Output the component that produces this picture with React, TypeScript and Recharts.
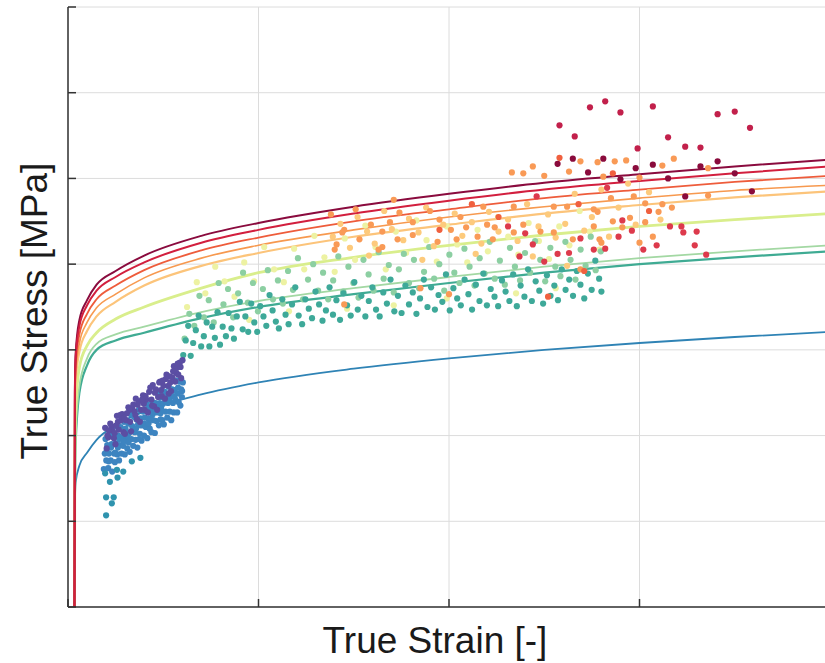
import React from "react"
import {
  ComposedChart,
  Line,
  Scatter,
  XAxis,
  YAxis,
  CartesianGrid,
} from "recharts"

// fitted flow curves, all sampled at the same strains
const curveStrain = [0.0034, 0.0036, 0.004, 0.006, 0.01, 0.015, 0.025, 0.04, 0.07, 0.1, 0.15, 0.2, 0.25, 0.3, 0.35, 0.4]
const blueCurve = [0, 120, 145, 165, 180, 195, 212, 228, 248, 262, 278, 290, 300, 308, 315, 321]
const tealCurve = [0, 120, 190, 250, 282, 300, 311, 320, 337, 350, 365, 378, 390, 400, 408, 415]
const lightGreenCurve = [0, 130, 200, 258, 290, 307, 318, 327, 344, 357, 372, 385, 397, 407, 415, 422]
const yellowGreenCurve = [0, 170, 230, 280, 305, 320, 336, 350, 372, 390, 408, 422, 434, 444, 452, 459]
const lightOrangeCurve = [0, 225, 262, 298, 322, 339, 356, 375, 398, 413, 432, 446, 459, 469, 478, 485]
const orangeCurve = [0, 232, 272, 308, 332, 349, 365, 384, 407, 422, 440, 455, 467, 477, 486, 492]
const orangeRedCurve = [0, 240, 282, 318, 342, 359, 375, 393, 416, 431, 450, 464, 477, 487, 496, 503]
const maroonCurve = [0, 250, 295, 335, 358, 376, 392, 410, 433, 448, 467, 482, 495, 505, 514, 522]
const redCurve = [0, 245, 290, 328, 352, 369, 385, 402, 425, 440, 459, 474, 487, 497, 506, 514]

// measured points [strain, stress MPa]
const purplePts = [
  [0.0195, 209], [0.0212, 198], [0.0203, 185], [0.0228, 211], [0.0241, 197], [0.0233, 206], [0.0257, 223], [0.0266, 207],
  [0.0249, 190], [0.0278, 218], [0.0291, 204], [0.0284, 225], [0.0305, 218], [0.0317, 233], [0.0299, 202], [0.0326, 216],
  [0.0338, 231], [0.0331, 205], [0.0349, 228], [0.0356, 243], [0.0362, 219], [0.0371, 240], [0.0383, 230], [0.0377, 216],
  [0.0394, 247], [0.0402, 230], [0.0411, 242], [0.0419, 227], [0.0426, 251], [0.0438, 242], [0.0445, 259], [0.0452, 234],
  [0.0461, 254], [0.0473, 245], [0.0468, 230], [0.0484, 263], [0.0492, 246], [0.0501, 258], [0.0509, 243], [0.0517, 271],
  [0.0526, 258], [0.0533, 269], [0.0541, 252], [0.0548, 268], [0.0556, 281], [0.0563, 263], [0.0572, 279], [0.0579, 271],
  [0.0587, 285], [0.0594, 267], [0.0214, 206], [0.0262, 216], [0.0309, 226], [0.0354, 224], [0.0398, 237], [0.0441, 235],
  [0.0488, 253], [0.0529, 249], [0.0569, 273], [0.0245, 203], [0.0222, 214], [0.0273, 224], [0.0322, 230], [0.0366, 236],
  [0.0407, 246], [0.0432, 256], [0.0479, 262], [0.0513, 266], [0.0552, 275], [0.0591, 280], [0.0207, 200], [0.0254, 212],
  [0.0295, 220], [0.0343, 236], [0.0389, 242], [0.0456, 250], [0.0497, 264], [0.0537, 262], [0.0576, 284], [0.0601, 288],
]
const bluePts = [
  [0.0188, 161], [0.0193, 179], [0.0197, 196], [0.0201, 171], [0.0206, 189], [0.0211, 162], [0.0215, 179], [0.0219, 202],
  [0.0224, 171], [0.0229, 190], [0.0232, 158], [0.0237, 199], [0.0242, 179], [0.0246, 169], [0.0251, 191], [0.0255, 211],
  [0.0259, 178], [0.0263, 200], [0.0268, 171], [0.0272, 189], [0.0276, 210], [0.0281, 179], [0.0285, 198], [0.0289, 188],
  [0.0294, 216], [0.0298, 178], [0.0302, 208], [0.0307, 196], [0.0311, 185], [0.0316, 214], [0.032, 203], [0.0324, 181],
  [0.0329, 225], [0.0333, 196], [0.0337, 211], [0.0342, 188], [0.0346, 222], [0.0351, 204], [0.0355, 195], [0.0359, 219],
  [0.0364, 186], [0.0368, 213], [0.0372, 230], [0.0377, 202], [0.0381, 220], [0.0386, 194], [0.039, 212], [0.0394, 228],
  [0.0399, 200], [0.0403, 221], [0.0408, 210], [0.0412, 237], [0.0416, 197], [0.0421, 220], [0.0425, 232], [0.0429, 208],
  [0.0434, 228], [0.0438, 204], [0.0442, 239], [0.0447, 218], [0.0451, 228], [0.0456, 203], [0.046, 238], [0.0464, 217],
  [0.0469, 227], [0.0473, 249], [0.0477, 212], [0.0482, 238], [0.0486, 226], [0.049, 245], [0.0495, 218], [0.0499, 237],
  [0.0503, 213], [0.0508, 251], [0.0512, 228], [0.0516, 245], [0.0521, 221], [0.0525, 238], [0.0529, 257], [0.0534, 228],
  [0.0538, 246], [0.0542, 218], [0.0547, 254], [0.0551, 238], [0.0555, 227], [0.056, 253], [0.0564, 242], [0.0568, 264],
  [0.0573, 227], [0.0577, 249], [0.0581, 239], [0.0586, 263], [0.059, 235], [0.0594, 254], [0.0598, 245], [0.0603, 262],
  [0.0203, 182], [0.0226, 186], [0.0248, 180], [0.0269, 196], [0.0292, 193], [0.0313, 200], [0.0335, 205], [0.0357, 208],
  [0.0379, 212], [0.0401, 214], [0.0423, 214], [0.0445, 225], [0.0467, 232], [0.0489, 232], [0.0511, 240], [0.0533, 242],
  [0.0556, 246], [0.0578, 256], [0.0599, 252], [0.0213, 170], [0.0262, 186], [0.0318, 192], [0.0374, 196], [0.0431, 220],
  [0.0486, 219],
]
const blueTealPts = [
  [0.022, 146], [0.02, 128], [0.024, 128], [0.023, 121], [0.02, 107], [0.029, 158], [0.038, 174], [0.026, 151],
  [0.0195, 156], [0.0257, 160], [0.0335, 170],
]
const tealPts = [
  [0.0605, 294], [0.0618, 311], [0.0631, 328], [0.0644, 293], [0.0657, 308], [0.0671, 323], [0.0686, 340], [0.0699, 304],
  [0.0713, 316], [0.0728, 332], [0.0742, 304], [0.0757, 327], [0.0771, 314], [0.0785, 344], [0.0798, 306], [0.0812, 327],
  [0.0829, 316], [0.0843, 343], [0.0858, 325], [0.0871, 313], [0.0886, 339], [0.0902, 356], [0.0917, 324], [0.0931, 339],
  [0.0946, 321], [0.0962, 354], [0.0978, 332], [0.0993, 321], [0.1009, 351], [0.1026, 339], [0.1041, 328], [0.1058, 364],
  [0.1074, 346], [0.1091, 333], [0.1107, 325], [0.1125, 359], [0.1142, 341], [0.1158, 330], [0.1176, 353], [0.1193, 373],
  [0.1211, 340], [0.1229, 330], [0.1246, 359], [0.1264, 348], [0.1281, 337], [0.1299, 368], [0.1318, 353], [0.1336, 334],
  [0.1354, 346], [0.1373, 373], [0.1391, 341], [0.1409, 358], [0.1428, 335], [0.1446, 366], [0.1465, 352], [0.1484, 340],
  [0.1503, 379], [0.1521, 347], [0.154, 363], [0.1561, 339], [0.1579, 357], [0.1598, 373], [0.1617, 347], [0.1636, 339],
  [0.1655, 367], [0.1674, 354], [0.1693, 382], [0.1713, 345], [0.1732, 363], [0.1751, 343], [0.1771, 375], [0.179, 353],
  [0.181, 367], [0.1829, 342], [0.1848, 360], [0.1868, 382], [0.1887, 350], [0.1906, 373], [0.1926, 347], [0.1945, 364],
  [0.1965, 356], [0.1984, 388], [0.2004, 346], [0.2023, 372], [0.2043, 360], [0.2062, 352], [0.2082, 382], [0.2102, 365],
  [0.2121, 347], [0.2141, 376], [0.216, 357], [0.218, 389], [0.2199, 352], [0.2219, 371], [0.2239, 362], [0.2258, 351],
  [0.2278, 381], [0.2297, 368], [0.2317, 357], [0.2337, 388], [0.2356, 351], [0.2376, 375], [0.2396, 362], [0.2415, 394],
  [0.2435, 357], [0.2455, 380], [0.2474, 369], [0.2494, 354], [0.2514, 387], [0.2533, 363], [0.2553, 375], [0.2572, 358],
  [0.2592, 394], [0.2612, 370], [0.2631, 382], [0.2651, 363], [0.2671, 392], [0.269, 376], [0.271, 360], [0.2729, 389],
  [0.2749, 370], [0.2768, 404], [0.2788, 383], [0.28, 368],
]
const greenPts = [
  [0.0612, 313], [0.0637, 342], [0.0663, 328], [0.069, 363], [0.0714, 338], [0.0739, 358], [0.0765, 332], [0.0791, 378],
  [0.0816, 353], [0.084, 371], [0.0867, 338], [0.0893, 366], [0.0919, 390], [0.0944, 355], [0.0971, 378], [0.0997, 345],
  [0.1023, 371], [0.1049, 393], [0.1076, 359], [0.1102, 381], [0.1128, 354], [0.1155, 392], [0.1181, 370], [0.1207, 407],
  [0.1234, 359], [0.126, 382], [0.1287, 400], [0.1313, 369], [0.1339, 390], [0.1366, 359], [0.1392, 381], [0.1419, 409],
  [0.1445, 368], [0.1472, 397], [0.1498, 378], [0.1525, 361], [0.1551, 405], [0.1578, 388], [0.1604, 369], [0.1631, 414],
  [0.1657, 383], [0.1684, 399], [0.171, 367], [0.1737, 394], [0.1763, 412], [0.179, 378], [0.1816, 405], [0.1843, 372],
  [0.1869, 391], [0.1896, 420], [0.1922, 383], [0.1949, 400], [0.1975, 369], [0.2002, 411], [0.2028, 390], [0.2055, 378],
  [0.2081, 418], [0.2108, 397], [0.2134, 375], [0.2161, 407], [0.2187, 389], [0.2214, 426], [0.224, 383], [0.2267, 404],
  [0.2293, 376], [0.232, 419], [0.2346, 397], [0.2373, 381], [0.2399, 413], [0.2426, 390], [0.2452, 427], [0.2479, 405],
  [0.2505, 380], [0.2532, 419], [0.2558, 397], [0.2585, 386], [0.2611, 426], [0.2638, 405], [0.2664, 382], [0.2691, 417],
  [0.2717, 398], [0.2744, 432], [0.277, 393], [0.2797, 415],
]
const yellowPts = [
  [0.0625, 350], [0.0676, 379], [0.0721, 366], [0.0773, 397], [0.0822, 380], [0.0874, 362], [0.0925, 402], [0.0977, 380],
  [0.103, 420], [0.1082, 394], [0.1133, 379], [0.1187, 418], [0.124, 394], [0.1293, 433], [0.1346, 408], [0.14, 391],
  [0.1453, 430], [0.1507, 405], [0.1561, 445], [0.1614, 420], [0.1668, 394], [0.1721, 438], [0.1775, 413], [0.1829, 451],
  [0.1882, 428], [0.1936, 403], [0.1989, 444], [0.2043, 423], [0.2096, 402], [0.215, 440], [0.2204, 415], [0.2257, 455],
  [0.2311, 432], [0.2364, 411], [0.2418, 448], [0.2472, 427], [0.2525, 406], [0.2579, 444], [0.2632, 422], [0.2686, 462],
  [0.2739, 438], [0.279, 417], [0.0951, 335], [0.1465, 348], [0.1988, 360], [0.2352, 366], [0.256, 372], [0.116, 345],
  [0.171, 352],
]
const lightOrangePts = [
  [0.139, 432], [0.143, 447], [0.148, 419], [0.152, 455], [0.157, 438], [0.161, 424], [0.166, 462], [0.17, 441],
  [0.176, 428], [0.179, 453], [0.184, 437], [0.188, 466], [0.192, 421], [0.197, 446], [0.203, 459], [0.207, 433],
  [0.212, 449], [0.217, 424], [0.221, 461], [0.226, 438], [0.231, 452], [0.236, 427], [0.241, 470], [0.247, 444],
  [0.252, 458], [0.256, 431], [0.261, 447], [0.266, 482], [0.271, 439], [0.275, 455], [0.28, 487], [0.284, 432],
  [0.289, 466], [0.294, 494], [0.298, 446], [0.305, 484], [0.311, 452], [0.158, 410], [0.186, 405], [0.214, 412],
  [0.244, 409], [0.262, 398],
]
const orangePts = [
  [0.171, 475], [0.174, 460], [0.19, 462], [0.206, 455], [0.218, 467], [0.234, 467], [0.255, 467], [0.262, 467],
  [0.276, 464], [0.169, 449], [0.181, 449], [0.195, 452], [0.201, 440], [0.209, 443], [0.22, 446], [0.224, 443],
  [0.239, 446], [0.248, 438], [0.181, 434], [0.173, 429], [0.194, 426], [0.204, 429], [0.215, 432], [0.223, 429],
  [0.234, 437], [0.255, 437], [0.265, 429], [0.279, 429], [0.165, 420], [0.269, 394], [0.233, 507], [0.239, 506],
  [0.244, 514], [0.25, 503], [0.263, 508], [0.269, 520], [0.278, 519], [0.287, 520], [0.293, 521], [0.312, 515],
  [0.318, 523], [0.281, 502], [0.3, 501], [0.336, 512], [0.336, 480], [0.297, 479], [0.285, 477], [0.303, 471],
  [0.312, 470], [0.317, 466], [0.278, 461], [0.31, 461], [0.295, 454], [0.286, 450], [0.291, 443], [0.303, 449],
  [0.276, 444], [0.307, 432], [0.3, 425], [0.28, 425], [0.145, 440], [0.153, 429], [0.14, 417], [0.159, 446],
  [0.151, 464], [0.138, 458], [0.163, 417], [0.144, 437], [0.141, 423], [0.165, 438], [0.145, 353], [0.2, 365],
  [0.185, 372],
]
const redOrangePts = [
  [0.271, 392], [0.252, 362], [0.258, 524], [0.226, 455], [0.212, 470], [0.305, 462], [0.268, 470], [0.195, 440],
  [0.286, 506],
]
const redPts = [
  [0.283, 489], [0.246, 479], [0.231, 444], [0.24, 436], [0.269, 430], [0.289, 432], [0.296, 439], [0.291, 451],
  [0.316, 444], [0.322, 444], [0.323, 437], [0.33, 438], [0.244, 423], [0.257, 412], [0.263, 413], [0.237, 409],
  [0.25, 403], [0.276, 417], [0.282, 418], [0.302, 417], [0.309, 422], [0.329, 422], [0.335, 411],
]
const crimsonPts = [
  [0.258, 562], [0.274, 583], [0.282, 590], [0.29, 577], [0.307, 584], [0.266, 549], [0.299, 535], [0.315, 548],
  [0.324, 537], [0.341, 575], [0.35, 578], [0.358, 559], [0.332, 536],
]
const maroonPts = [
  [0.257, 517], [0.265, 523], [0.281, 523], [0.298, 512], [0.307, 516], [0.273, 507], [0.29, 499], [0.315, 500],
  [0.332, 514], [0.341, 520], [0.35, 506], [0.324, 479], [0.359, 485],
]

const xTicks = [0, 0.1, 0.2, 0.3, 0.4]
const yTicks = [0, 100, 200, 300, 400, 500, 600, 700]

const toCurve = (vals: number[]) => curveStrain.map((x, i) => ({ x, y: vals[i] }))
const toPts = (pairs: number[][]) => pairs.map(([x, y]) => ({ x, y }))

const curves = [
  { name: "blue", vals: blueCurve, color: "#2f83b5", w: 1.8 },
  { name: "teal", vals: tealCurve, color: "#3fab93", w: 2.2 },
  { name: "lightGreen", vals: lightGreenCurve, color: "#a3d8a3", w: 1.8 },
  { name: "yellowGreen", vals: yellowGreenCurve, color: "#d9ee8c", w: 2.8 },
  { name: "lightOrange", vals: lightOrangeCurve, color: "#fcc47a", w: 2.2 },
  { name: "orange", vals: orangeCurve, color: "#f7994f", w: 1.6 },
  { name: "orangeRed", vals: orangeRedCurve, color: "#ee5c3b", w: 1.8 },
  { name: "maroon", vals: maroonCurve, color: "#8a0b3e", w: 2 },
  { name: "red", vals: redCurve, color: "#d21f3e", w: 2 },
]

const groups = [
  { name: "yellow", pts: yellowPts, color: "#edf2a2" },
  { name: "green", pts: greenPts, color: "#8ccfa2" },
  { name: "teal", pts: tealPts, color: "#3ea999" },
  { name: "lightOrange", pts: lightOrangePts, color: "#fdca7c" },
  { name: "orange", pts: orangePts, color: "#f99a56" },
  { name: "redOrange", pts: redOrangePts, color: "#f0603f" },
  { name: "red", pts: redPts, color: "#dd3a4c" },
  { name: "crimson", pts: crimsonPts, color: "#c2204b" },
  { name: "maroon", pts: maroonPts, color: "#8a0b3c" },
  { name: "blue", pts: bluePts, color: "#3d84c0" },
  { name: "blueTeal", pts: blueTealPts, color: "#2f93ae" },
  { name: "purple", pts: purplePts, color: "#5b4ea3" },
]

const dot = (color: string) => (props: any) => (
  <circle cx={props.cx} cy={props.cy} r={3.1} fill={color} />
)

// no tick labels on this plot, just the inward tick marks
const NoLabel = () => <g />

const labelFont = "'Liberation Sans', Arial, sans-serif"

export default function App() {
  return (
    <div
      style={{
        position: "absolute",
        left: 0,
        top: 0,
        width: 825,
        height: 663,
        overflow: "hidden",
        background: "#fff",
      }}
    >
      <ComposedChart
        width={850}
        height={663}
        margin={{ top: 7, right: 20, bottom: 0, left: 0 }}
      >
        <CartesianGrid stroke="#dcdcdc" strokeWidth={1} />
        <XAxis
          type="number"
          dataKey="x"
          domain={[0, 0.4]}
          ticks={xTicks}
          tick={NoLabel}
          tickSize={-8}
          height={56}
          axisLine={{ stroke: "#333", strokeWidth: 1.5 }}
          tickLine={{ stroke: "#333", strokeWidth: 1.5 }}
          allowDataOverflow
        />
        <YAxis
          type="number"
          dataKey="y"
          domain={[0, 700]}
          ticks={yTicks}
          tick={NoLabel}
          tickSize={-8}
          width={68}
          axisLine={{ stroke: "#333", strokeWidth: 1.5 }}
          tickLine={{ stroke: "#333", strokeWidth: 1.5 }}
          allowDataOverflow
        />
        {curves.map((c) => (
          <Line
            key={c.name}
            data={toCurve(c.vals)}
            dataKey="y"
            type="monotone"
            stroke={c.color}
            strokeWidth={c.w}
            dot={false}
            activeDot={false}
            isAnimationActive={false}
          />
        ))}
        {groups.map((g) => (
          <Scatter
            key={g.name}
            data={toPts(g.pts)}
            dataKey="y"
            shape={dot(g.color)}
            isAnimationActive={false}
          />
        ))}
      </ComposedChart>
      <div
        style={{
          position: "absolute",
          left: 35,
          top: 311,
          transform: "translate(-50%, -50%) rotate(-90deg)",
          fontSize: 37,
          fontFamily: labelFont,
          color: "#1a1a1a",
          whiteSpace: "nowrap",
        }}
      >
        True Stress [MPa]
      </div>
      <div
        style={{
          position: "absolute",
          left: 435,
          top: 641,
          transform: "translate(-50%, -50%)",
          fontSize: 37,
          fontFamily: labelFont,
          color: "#1a1a1a",
          whiteSpace: "nowrap",
        }}
      >
        True Strain [-]
      </div>
    </div>
  )
}
